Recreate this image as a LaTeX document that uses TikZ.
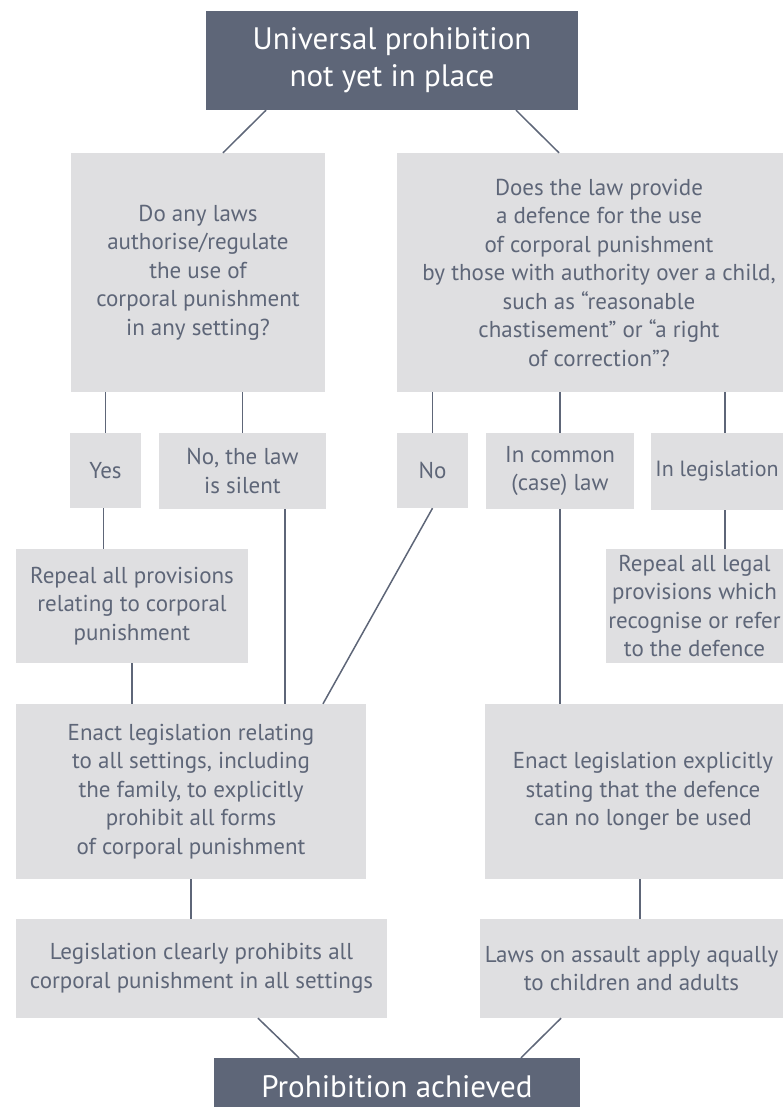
\documentclass[tikz,border=0pt]{standalone}
\usepackage{fontspec}
\setmainfont{PT Sans}
\usetikzlibrary{calc}
\definecolor{slate}{HTML}{5E6678}
\definecolor{pale}{HTML}{DFDFE1}
\tikzset{
  lbox/.style={fill=pale, text=slate, inner sep=0pt, align=center,
    font=\fontsize{23}{28.5}\selectfont},
  dbox/.style={fill=slate, text=white, inner sep=0pt, align=center,
    font=\fontsize{31}{37}\selectfont},
  conn/.style={draw=slate, line width=1.5pt}
}
\begin{document}
\begin{tikzpicture}[x=1pt,y=-1pt]
\useasboundingbox (0,0) rectangle (783,1107);
\node[dbox, minimum width=372, minimum height=99] (top) at (392,60.5) {Universal prohibition\\not yet in place};
\node[lbox, minimum width=254, minimum height=239] (q1) at (198,272.5) {Do any laws\\authorise/regulate\\the use of\\corporal punishment\\in any setting?};
\node[lbox, minimum width=404, minimum height=239] (q2) at (599,272.5) {Does the law provide\\a defence for the use\\of corporal punishment\\by those with authority over a child,\\such as “reasonable\\chastisement” or “a right\\of correction”?};
\node[lbox, minimum width=71, minimum height=75] (yes) at (105.5,470.5) {Yes};
\node[lbox, minimum width=167, minimum height=76] (silent) at (242.5,471) {No, the law\\is silent};
\node[lbox, minimum width=71, minimum height=75] (no) at (432.5,470.5) {No};
\node[lbox, minimum width=148, minimum height=76] (common) at (560,471) {In common\\(case) law};
\node[lbox, minimum width=132, minimum height=77, font=\fontsize{22}{28.5}\selectfont] (legis) at (717,471.5) {In legislation};
\node[lbox, minimum width=177, minimum height=114] (rep2) at (694.5,606) {Repeal all legal\\provisions which\\recognise or refer\\to the defence};
\node[lbox, minimum width=232, minimum height=114] (rep1) at (132,606) {Repeal all provisions\\relating to corporal\\punishment};
\node[lbox, minimum width=350, minimum height=175] (enact1) at (191,791.5) {Enact legislation relating\\ to all settings, including\\the family, to explicitly\\prohibit all forms\\of corporal punishment};
\node[lbox, minimum width=316, minimum height=175] (enact2) at (643,791.5) {Enact legislation explicitly\\stating that the defence\\can no longer be used};
\node[lbox, minimum width=371, minimum height=99] (legcl) at (201.5,968.5) {Legislation clearly prohibits all\\corporal punishment in all settings};
\node[lbox, minimum width=303, minimum height=99] (assault) at (631.5,968.5) {Laws on assault apply aqually\\to children and adults};
\node[dbox, minimum width=366, minimum height=57] (final) at (397,1086.5) {Prohibition achieved};
% connectors
\draw[conn] ($(top.south)+(-126,0)$) -- ($(q1.north)+(25,0)$);
\draw[conn] ($(top.south)+(124,0)$) -- ($(q2.north)+(-40,0)$);
\draw[conn] (q1.south -| yes.north) -- (yes.north);
\draw[conn] (q1.south -| silent.north) -- (silent.north);
\draw[conn] (q2.south -| no.north) -- (no.north);
\draw[conn] (q2.south -| common.north) -- (common.north);
\draw[conn] ($(q2.south -| legis.north)+(8,0)$) -- ($(legis.north)+(8,0)$);
\draw[conn] ($(yes.south)+(-2,0)$) -- ($(yes.south |- rep1.north)+(-2,0)$);
\draw[conn] (rep1.south) -- (rep1.south |- enact1.north);
\draw[conn] ($(silent.south)+(42.5,0)$) -- ($(silent.south |- enact1.north)+(42.5,0)$);
\draw[conn] (no.south) -- ($(enact1.north)+(132,0)$);
\draw[conn] (common.south) -- (common.south |- enact2.north);
\draw[conn] ($(legis.south)+(8,0)$) -- ($(legis.south |- rep2.north)+(8,0)$);
\draw[conn] (enact1.south) -- (enact1.south |- legcl.north);
\draw[conn] ($(assault.north)+(8.5,0)$) -- ($(assault.north |- enact2.south)+(8.5,0)$);
\draw[conn] ($(legcl.south)+(56.5,0)$) -- ($(final.north)+(-98,0)$);
\draw[conn] ($(assault.south)+(-70.5,0)$) -- ($(final.north)+(124,0)$);
\end{tikzpicture}
\end{document}
